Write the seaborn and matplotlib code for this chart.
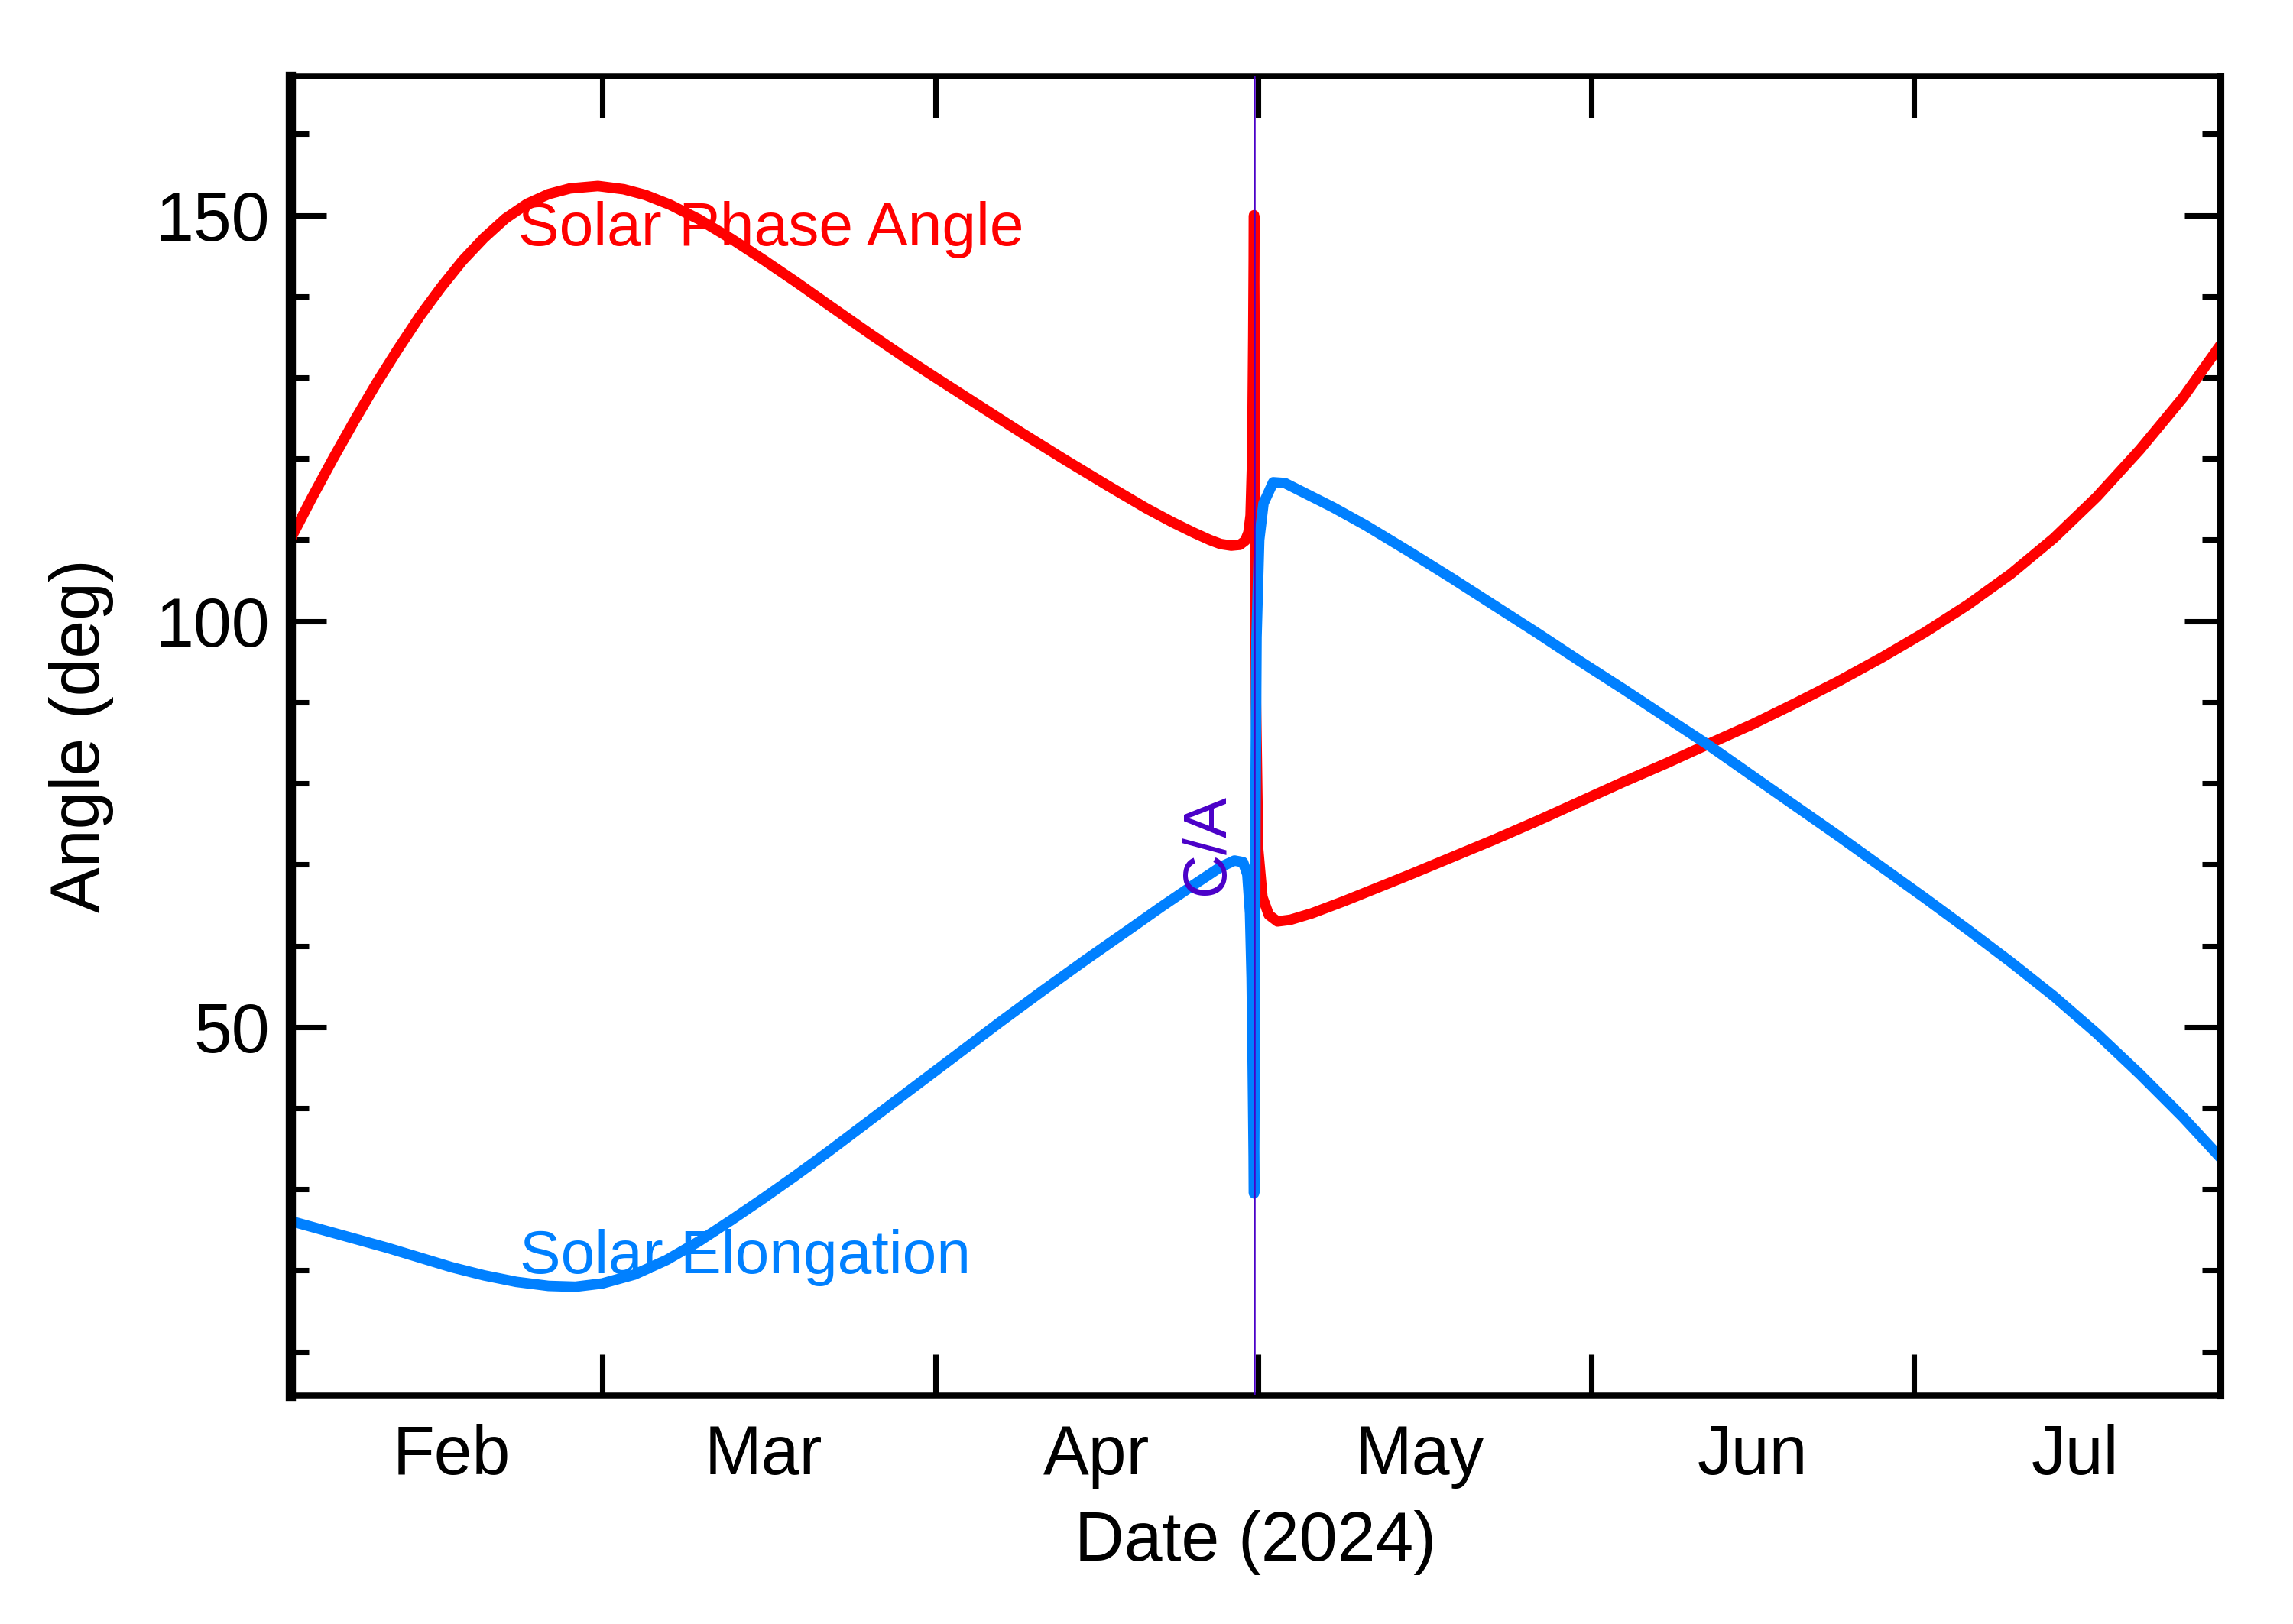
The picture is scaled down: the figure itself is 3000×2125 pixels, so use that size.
import matplotlib
matplotlib.use("Agg")
from matplotlib import pyplot as plt
import matplotlib.dates as mdates
from matplotlib.ticker import MultipleLocator, NullFormatter
import pandas as pd
import seaborn as sns

# time axis: days after 2024-02-01
START = pd.Timestamp("2024-02-01")
CA_DAY = 89.62          # close approach, Apr 30 ~15h
X_END_DAY = 179.5

phase_days = [0, 2, 4, 6, 8, 10, 12, 14, 16, 18, 20, 22, 24, 26, 28.6, 31, 33, 35.3,
              38, 41, 44, 47, 50, 54, 57, 60, 64, 68, 72, 76, 79.6, 82, 84, 85.5, 86.5,
              87.5, 88.3, 88.8, 89.1, 89.3, 89.45, 89.55, 89.62, 89.7, 89.8, 90.0, 90.4,
              91.0, 91.8, 93, 95, 98, 101, 104, 108, 112, 116, 120, 124, 128, 131.8,
              136, 140, 144, 148, 152, 156, 160, 164, 168, 172, 176, 179.5]
phase_deg = [110.1, 115.2, 120.1, 124.8, 129.3, 133.5, 137.5, 141.1, 144.4, 147.2,
             149.6, 151.4, 152.6, 153.3, 153.6, 153.2, 152.5, 151.3, 149.5, 147.1,
             144.5, 141.8, 139.0, 135.3, 132.6, 130.0, 126.6, 123.2, 119.9, 116.7,
             113.9, 112.2, 110.9, 110.0, 109.5, 109.3, 109.4, 109.9, 110.9, 113.0,
             120.0, 135.0, 150.0, 120.0, 90.0, 72.0, 66.0, 63.8, 63.0, 63.2, 64.0,
             65.5, 67.1, 68.7, 70.9, 73.1, 75.4, 77.8, 80.2, 82.5, 84.8, 87.3, 89.9,
             92.6, 95.5, 98.6, 102.0, 105.8, 110.2, 115.3, 121.1, 127.5, 134.0]

elong_days = [0, 3, 6, 9, 12, 15, 18, 21, 24, 26.5, 29, 32, 35, 38, 41, 44, 47, 50,
              54, 58, 62, 66, 70, 74, 78, 81, 84, 86.5, 87.8, 88.6, 89.0, 89.25, 89.4,
              89.5, 89.58, 89.62, 89.68, 89.75, 89.85, 90.1, 90.5, 91.4, 92.5, 94, 97,
              100, 104, 108, 112, 116, 120, 124, 128, 131.8, 136, 140, 144, 148, 152,
              156, 160, 164, 168, 172, 176, 179.5]
elong_deg = [26.1, 25.0, 23.9, 22.8, 21.6, 20.4, 19.4, 18.6, 18.1, 18.0, 18.4, 19.5,
             21.3, 23.6, 26.2, 28.9, 31.7, 34.6, 38.6, 42.6, 46.6, 50.6, 54.5, 58.3,
             62.0, 64.8, 67.5, 69.7, 70.5, 70.3, 68.8, 64.0, 56.0, 45.0, 35.0, 29.5,
             48.0, 75.0, 98.0, 110.0, 114.5, 117.1, 117.0, 116.0, 114.0, 111.8, 108.6,
             105.3, 101.9, 98.5, 95.0, 91.6, 88.1, 84.8, 80.9, 77.2, 73.5, 69.7, 65.9,
             62.0, 58.0, 53.8, 49.2, 44.2, 38.9, 33.9]

series_names = ["Solar Phase Angle", "Solar Elongation"]
series_colors = {"Solar Phase Angle": "#ff0000", "Solar Elongation": "#0080ff"}
ca_color = "#4a00c8"


def to_dates(days):
    return START + pd.to_timedelta(days, unit="D")


df = pd.concat([
    pd.DataFrame({"date": to_dates(phase_days), "angle": phase_deg, "series": series_names[0]}),
    pd.DataFrame({"date": to_dates(elong_days), "angle": elong_deg, "series": series_names[1]}),
], ignore_index=True)

sns.set_theme(style="ticks")
plt.rcParams["font.family"] = ["Liberation Sans", "DejaVu Sans"]

fig = plt.figure(figsize=(10, 2125 / 300), dpi=300)
ax = fig.add_axes([380 / 3000, 1 - 1826 / 2125, 2525 / 3000, 1726 / 2125])

sns.lineplot(data=df, x="date", y="angle", hue="series", palette=series_colors,
             estimator=None, sort=False, legend=False, linewidth=3.3, ax=ax)

ca_date = START + pd.Timedelta(days=CA_DAY)
ax.axvline(ca_date, color=ca_color, linewidth=0.6, zorder=5)
ax.text(START + pd.Timedelta(days=88.0), 66.3, "C/A", rotation=90, color=ca_color,
        fontsize=19, ha="right", va="bottom")

ax.text(START + pd.Timedelta(days=21.2), 146.3, "Solar Phase Angle", color="#ff0000",
        fontsize=19.3, ha="left", va="baseline")
ax.text(START + pd.Timedelta(days=21.3), 19.7, "Solar Elongation", color="#0080ff",
        fontsize=19.3, ha="left", va="baseline")

ax.set_xlim(START, START + pd.Timedelta(days=X_END_DAY))
ax.set_ylim(4.6, 167.1)

ax.xaxis.set_major_locator(mdates.MonthLocator())
ax.xaxis.set_major_formatter(NullFormatter())
ax.xaxis.set_minor_locator(mdates.MonthLocator(bymonthday=16))
ax.xaxis.set_minor_formatter(mdates.DateFormatter("%b"))
ax.tick_params(axis="x", which="major", direction="in", length=13, width=1.7,
               top=True, bottom=True, color="black")
ax.tick_params(axis="x", which="minor", length=0, labelsize=21.5, pad=9,
               labelcolor="black")

ax.yaxis.set_major_locator(MultipleLocator(50))
ax.yaxis.set_minor_locator(MultipleLocator(10))
ax.tick_params(axis="y", which="major", direction="in", length=11.3, width=1.7,
               left=True, right=True, labelsize=21.5, pad=6.5, color="black",
               labelcolor="black")
ax.tick_params(axis="y", which="minor", direction="in", length=5.8, width=1.7,
               left=True, right=True, color="black")

for side, lw in {"left": 3.2, "right": 2.2, "top": 1.8, "bottom": 1.8}.items():
    ax.spines[side].set_visible(True)
    ax.spines[side].set_linewidth(lw)
    ax.spines[side].set_color("black")

ax.set_xlabel("Date (2024)", fontsize=21.5, labelpad=6.5, color="black")
ax.set_ylabel("Angle (deg)", fontsize=21.5, labelpad=13, color="black")

fig.savefig("out.png", dpi=300, facecolor="white")
